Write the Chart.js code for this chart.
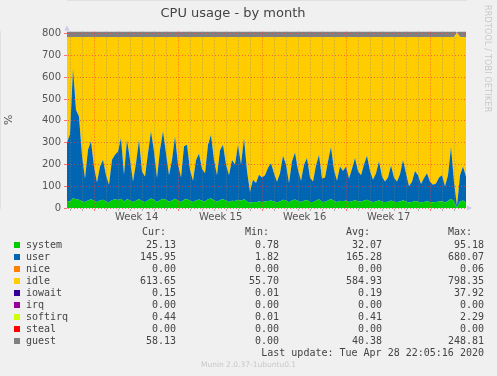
<!DOCTYPE html>
<html>
<head>
<meta charset="utf-8">
<script src="https://cdn.jsdelivr.net/npm/chart.js@4"></script>
<style>
  html, body { margin: 0; padding: 0; background: #F0F0F0; }
  #page { position: relative; width: 497px; height: 376px; overflow: hidden; }
  #chartBox { position: absolute; left: 0; top: 0; width: 497px; height: 232px; }
  .vtext { position: absolute; left: 483px; top: 5px; writing-mode: vertical-rl; font: 8px 'DejaVu Sans'; color: #c8c8c8; letter-spacing: 0.2px; }
  .row { position: absolute; left: 0; width: 497px; height: 12px; font: 10px 'DejaVu Sans Mono'; color: #444; line-height: 12px; }
  .row span { position: absolute; white-space: pre; }
  .sw { width: 6px; height: 6px; top: 3px; }
  .footer { position: absolute; left: 0; width: 497px; top: 360px; text-align: center; font: 7.5px 'DejaVu Sans'; color: #c8c8c8; }
</style>
</head>
<body>
<div id="page">
  <div id="chartBox"><canvas id="cpuChart"></canvas></div>
  <div class="vtext">RRDTOOL / TOBI OETIKER</div>
  <div id="legend"></div>
  <div class="footer">Munin 2.0.37-1ubuntu0.1</div>
</div>
<script>
// samples every 6 hours, x in days
const sampleStart = -0.3;
const sampleStep = 0.25;
const dayTicks = [0,1,2,3,4,5,6,7,8,9,10,11,12,13,14,15,16,17,18,19,20,21,22,23,24,25,26,27,28,29,30,31,32];
const weekStarts = [2, 9, 16, 23, 30];
const weekLabels = ['Week 14', 'Week 15', 'Week 16', 'Week 17'];

const systemVals = [32,30,45,40,38,30,28,34,40,33,27,35,38,30,26,36,40,37,42,30,40,36,27,33,41,31,28,36,44,38,28,36,42,
  38,29,34,43,35,28,38,41,33,27,35,39,33,30,40,44,36,29,37,40,34,28,33,32,38,33,40,30,24,27,26,30,28,30,
  32,35,30,26,30,38,35,26,34,39,32,27,33,37,28,27,33,40,28,29,35,41,32,27,33,31,34,28,31,36,31,29,34,
  38,31,27,30,36,29,27,29,34,29,27,30,36,30,25,27,32,29,26,28,31,27,26,27,30,31,25,32,42,30,1,30,34,25];
const userVals = [268,310,595,410,382,210,107,234,266,158,90,156,184,120,81,186,205,223,279,123,273,186,95,173,272,137,117,216,308,222,110,232,310,
  212,121,186,287,165,112,245,249,142,98,185,211,147,130,250,292,184,121,228,250,166,122,187,168,252,167,281,140,51,103,89,123,112,120,
  153,170,130,94,130,202,165,89,181,216,143,98,166,193,112,95,162,205,107,111,180,239,143,98,158,139,156,107,149,194,139,121,166,
  202,139,103,130,179,116,95,111,161,111,95,125,184,130,75,93,138,121,84,110,129,93,81,85,110,119,75,118,238,90,7,120,156,120];
const idleVals = [485,445,145,335,365,545,650,517,479,594,668,594,563,635,678,563,540,525,464,632,472,563,663,579,472,617,640,533,433,525,647,517,433,
  535,635,565,455,585,645,502,495,610,660,565,535,605,625,495,449,565,635,520,495,585,635,565,585,495,585,464,615,710,655,670,632,645,635,
  600,580,625,665,625,545,585,670,570,530,610,660,586,555,645,663,590,540,650,645,570,505,610,660,594,615,595,650,605,555,615,635,585,
  545,615,655,625,570,640,663,645,590,645,663,630,565,625,685,665,615,635,675,647,625,665,678,673,645,635,685,635,505,665,795,635,595,640];
const guestVals = [42,45,38,40,44,41,39,43,46,40,38,42,45,41,39,44,47,42,40,43,45,41,38,42,46,40,39,43,48,42,39,44,46,
  41,38,43,47,42,39,44,46,40,38,42,45,41,39,44,48,42,39,43,46,41,38,42,40,45,41,47,40,36,39,38,41,40,42,
  40,43,41,38,40,45,42,38,43,46,41,38,42,44,40,38,42,46,39,40,43,47,41,38,42,41,43,39,41,44,41,40,43,
  45,41,38,40,44,40,38,39,43,40,38,41,44,41,37,39,42,40,37,39,41,38,37,38,40,41,37,40,47,39,0,58,55,58];

// legend table
const seriesNames = ['system', 'user', 'nice', 'idle', 'iowait', 'irq', 'softirq', 'steal', 'guest'];
const seriesColors = ['#00CC00', '#0066B3', '#FF8000', '#FFCC00', '#330099', '#990099', '#CCFF00', '#FF0000', '#808080'];
const curVals = [25.13, 145.95, 0.00, 613.65, 0.15, 0.00, 0.44, 0.00, 58.13];
const minVals = [0.78, 1.82, 0.00, 55.70, 0.01, 0.00, 0.01, 0.00, 0.00];
const avgVals = [32.07, 165.28, 0.00, 584.93, 0.19, 0.00, 0.41, 0.00, 40.38];
const maxVals = [95.18, 680.07, 0.06, 798.35, 37.92, 0.00, 2.29, 0.00, 248.81];

function pts(arr) {
  return arr.map((v, i) => ({ x: sampleStart + i * sampleStep, y: v }));
}

function area(label, arr, color, fill) {
  return {
    label: label,
    data: pts(arr),
    backgroundColor: color,
    borderWidth: 0,
    pointRadius: 0,
    fill: fill,
    tension: 0
  };
}

const weekMids = weekLabels.map((l, i) => weekStarts[i] + 3.5);
const majorGrid = 'rgba(255,60,60,0.7)';
const minorGrid = 'rgba(130,130,130,0.6)';
const clear = 'rgba(0,0,0,0)';

const arrows = {
  id: 'arrows',
  afterDraw(chart) {
    const a = chart.chartArea;
    const c = chart.ctx;
    c.save();
    c.fillStyle = '#C8C8F0';
    c.beginPath();
    c.moveTo(a.left - 2.5, a.top - 1);
    c.lineTo(a.left + 2.5, a.top - 1);
    c.lineTo(a.left, a.top - 6);
    c.closePath();
    c.fill();
    c.beginPath();
    c.moveTo(a.right + 1, a.bottom - 2.5);
    c.lineTo(a.right + 1, a.bottom + 2.5);
    c.lineTo(a.right + 6, a.bottom);
    c.closePath();
    c.fill();
    c.restore();
  }
};

function xGridColor(ctx) {
  if (weekMids.includes(ctx.tick.value)) return clear;
  return weekStarts.includes(ctx.tick.value) ? majorGrid : minorGrid;
}

Chart.defaults.font.family = 'DejaVu Sans';
Chart.defaults.color = '#555';

new Chart(document.getElementById('cpuChart').getContext('2d'), {
  type: 'line',
  data: {
    datasets: [
      area('system', systemVals, seriesColors[0], 'origin'),
      area('user', userVals, seriesColors[1], '-1'),
      area('idle', idleVals, seriesColors[3], '-1'),
      area('guest', guestVals, seriesColors[8], '-1')
    ]
  },
  options: {
    responsive: true,
    maintainAspectRatio: false,
    animation: false,
    layout: { padding: { left: 0, right: 31, top: 0, bottom: 0 } },
    plugins: {
      legend: { display: false },
      tooltip: { enabled: false },
      title: {
        display: true,
        text: 'CPU usage - by month',
        color: '#444',
        font: { size: 13, weight: 'normal' },
        padding: { top: 6, bottom: 10 }
      }
    },
    scales: {
      x: {
        type: 'linear',
        min: -0.3,
        max: 32.95,
        afterBuildTicks: s => {
          s.ticks = dayTicks.map(v => ({ value: v })).concat(weekMids.map(v => ({ value: v })))
            .sort((a, b) => a.value - b.value);
        },
        afterFit: s => { s.height = 24; },
        ticks: {
          autoSkip: false,
          maxRotation: 0,
          padding: 0,
          font: { size: 10 },
          color: '#555',
          callback: v => {
            const k = weekMids.indexOf(v);
            return k >= 0 ? weekLabels[k] : '';
          }
        },
        grid: {
          z: 1,
          tickLength: 3,
          color: xGridColor,
          tickColor: xGridColor
        },
        border: { color: '#cfcfcf', dash: [1, 2] }
      },
      y: {
        stacked: true,
        min: 0,
        max: 810,
        afterBuildTicks: s => {
          s.ticks = [0, 50, 100, 150, 200, 250, 300, 350, 400, 450, 500, 550, 600, 650, 700, 750, 800].map(v => ({ value: v }));
        },
        afterFit: s => { s.width = 67; },
        title: { display: true, text: '%', font: { size: 11 }, color: '#555', padding: { top: 3, bottom: 0 } },
        ticks: {
          padding: 3,
          font: { size: 10 },
          color: '#555',
          callback: v => (v % 100 === 0 ? v : '')
        },
        grid: {
          z: 1,
          tickLength: 3,
          color: ctx => (ctx.tick.value % 100 === 0 ? majorGrid : minorGrid),
          tickColor: ctx => (ctx.tick.value % 100 === 0 ? majorGrid : minorGrid)
        },
        border: { color: '#cfcfcf', dash: [1, 2] }
      }
    }
  },
  plugins: [arrows]
});

// legend rows
const legend = document.getElementById('legend');
function addRow(top, parts) {
  const row = document.createElement('div');
  row.className = 'row';
  row.style.top = top + 'px';
  parts.forEach(p => {
    const s = document.createElement('span');
    if (p.color) {
      s.className = 'sw';
      s.style.background = p.color;
      s.style.left = p.left + 'px';
    } else if (p.right !== undefined) {
      s.style.right = (497 - p.right) + 'px';
      s.textContent = p.text;
    } else {
      s.style.left = p.left + 'px';
      s.textContent = p.text;
    }
    row.appendChild(s);
  });
  legend.appendChild(row);
}
const colRight = [176, 279, 382, 484];
const headRight = [166, 269, 370, 472];
addRow(226, [
  { right: headRight[0], text: 'Cur:' },
  { right: headRight[1], text: 'Min:' },
  { right: headRight[2], text: 'Avg:' },
  { right: headRight[3], text: 'Max:' }
]);
seriesNames.forEach((name, i) => {
  addRow(239 + i * 12, [
    { color: seriesColors[i], left: 14 },
    { left: 26, text: name },
    { right: colRight[0], text: curVals[i].toFixed(2) },
    { right: colRight[1], text: minVals[i].toFixed(2) },
    { right: colRight[2], text: avgVals[i].toFixed(2) },
    { right: colRight[3], text: maxVals[i].toFixed(2) }
  ]);
});
addRow(347, [{ right: colRight[3], text: 'Last update: Tue Apr 28 22:05:16 2020' }]);
</script>
</body>
</html>
